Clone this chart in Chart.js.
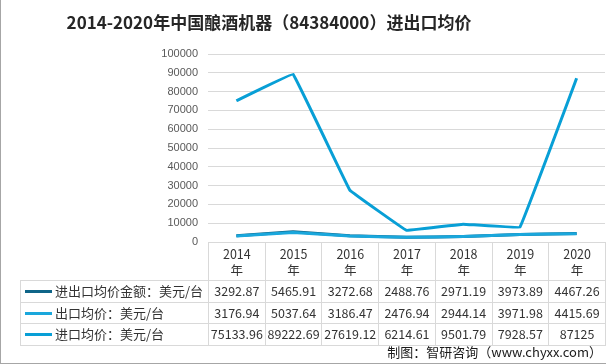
<!DOCTYPE html>
<html>
<head>
<meta charset="utf-8">
<script src="https://cdn.jsdelivr.net/npm/chart.js@4/dist/chart.umd.min.js"></script>
<style>
html,body{margin:0;padding:0;background:#fff;}
#wrap{position:relative;width:606px;height:364px;overflow:hidden;font-family:"Noto Sans CJK SC","Liberation Sans",sans-serif;}
#graph{position:absolute;left:0;top:0;}
#title{position:absolute;left:0;top:11px;width:538px;text-align:center;font-size:17px;line-height:22px;font-weight:bold;color:#262626;}
#tbl{position:absolute;top:242px;border-collapse:collapse;table-layout:fixed;font-size:12.5px;color:#333;}
#tbl td{border:1px solid #d9d9d9;text-align:center;padding:0;white-space:nowrap;}
#tbl tr.hd td{height:37px;line-height:16px;}
#tbl tr.rw td{height:20.5px;line-height:20px;}
#tbl td.lab{text-align:left;font-size:13px;}
#tbl td.blank{border-top:none;border-left:none;}
.sw{display:inline-block;width:27px;height:3px;vertical-align:middle;margin:0 3px 0 4px;position:relative;top:-1px;}
#foot{position:absolute;right:4px;top:343px;font-size:13px;line-height:18px;color:#1a1a1a;}
.bl{position:absolute;left:0;top:0;width:1px;height:364px;background:#a6a6a6;}
.bb{position:absolute;left:0;top:363px;width:606px;height:1px;background:#a6a6a6;}
</style>
</head>
<body>
<div id="wrap">
  <canvas id="graph" width="606" height="364"></canvas>
  <div id="title">2014-2020年中国酿酒机器（84384000）进出口均价</div>
  <table id="tbl"></table>
  <div id="foot">制图：智研咨询（www.chyxx.com）</div>
  <div class="bl"></div><div class="bb"></div>
</div>
<script>
// data
var years = ['2014', '2015', '2016', '2017', '2018', '2019', '2020'];
var seriesNames = ['进出口均价金额：美元/台', '出口均价：美元/台', '进口均价：美元/台'];
var totalAvg = [3292.87, 5465.91, 3272.68, 2488.76, 2971.19, 3973.89, 4467.26];
var exportAvg = [3176.94, 5037.64, 3186.47, 2476.94, 2944.14, 3971.98, 4415.69];
var importAvg = [75133.96, 89222.69, 27619.12, 6214.61, 9501.79, 7928.57, 87125];
var yTicks = [0, 10000, 20000, 30000, 40000, 50000, 60000, 70000, 80000, 90000, 100000];

var lineCol = ['#0f6588', '#1aa7dc', '#089fd6'];
var allData = [totalAvg, exportAvg, importAvg];

var ds = [];
for (var i = 0; i < allData.length; i++) {
  ds.push({
    label: seriesNames[i],
    data: allData[i],
    borderColor: lineCol[i],
    backgroundColor: lineCol[i],
    borderWidth: 3,
    pointRadius: 0,
    tension: 0.03,
    borderJoinStyle: 'round',
    order: 3 - i
  });
}

var kanvas = document.getElementById('graph');
var chart = new Chart(kanvas, {
  type: 'line',
  data: { labels: years, datasets: ds },
  options: {
    responsive: false,
    animation: false,
    layout: { padding: { left: 0, right: 1, top: 54, bottom: 122 } },
    plugins: { legend: { display: false }, title: { display: false }, tooltip: { enabled: false } },
    scales: {
      x: { display: false, offset: true },
      y: {
        min: yTicks[0],
        max: yTicks[yTicks.length - 1],
        afterBuildTicks: function(s) { s.ticks = yTicks.map(function(v) { return { value: v }; }); },
        afterFit: function(s) { s.width = 208; },
        border: { display: false },
        grid: { color: '#d9d9d9', drawTicks: false, lineWidth: 1 },
        ticks: {
          color: '#595959', padding: 10,
          font: { size: 11, family: '"Liberation Sans", sans-serif' },
          callback: function(v) { return String(v); }
        }
      }
    }
  }
});

// data table under the plot, aligned to the chart area
var ca = chart.chartArea;
var colW = (ca.right - ca.left) / years.length;
var labW = 188;
var tbl = document.getElementById('tbl');
tbl.style.left = (ca.left - labW) + 'px';
var html = '<colgroup><col style="width:' + labW + 'px">';
for (var c = 0; c < years.length; c++) html += '<col style="width:' + colW + 'px">';
html += '</colgroup><tr class="hd"><td class="blank"></td>';
for (var c = 0; c < years.length; c++) html += '<td>' + years[c] + '<br>年</td>';
html += '</tr>';
for (var r = 0; r < allData.length; r++) {
  html += '<tr class="rw"><td class="lab"><span class="sw" style="background:' + lineCol[r] + '"></span>' + seriesNames[r] + '</td>';
  for (var c = 0; c < years.length; c++) html += '<td>' + allData[r][c] + '</td>';
  html += '</tr>';
}
tbl.innerHTML = html;
</script>
</body>
</html>
